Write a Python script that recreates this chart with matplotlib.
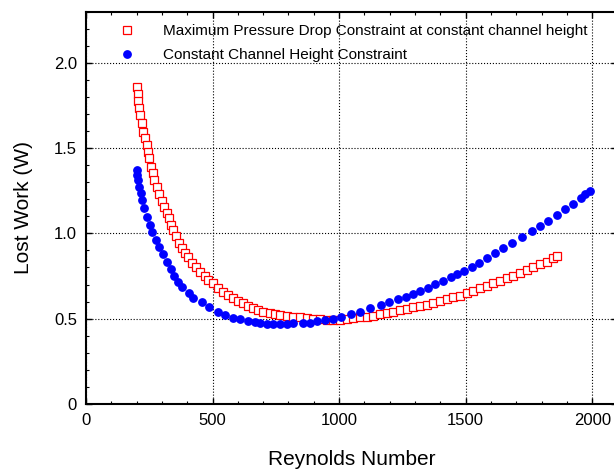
import matplotlib
matplotlib.use('Agg')
import matplotlib.pyplot as plt
from matplotlib.ticker import MultipleLocator, FuncFormatter

plt.rcParams['font.family'] = ['Liberation Sans', 'DejaVu Sans']

# 최대 압력강하 제약 (빨간 네모)
re_dp = [200, 204, 207, 211, 213, 220, 227, 233, 240, 246, 250, 257, 263, 270, 279,
         288, 299, 310, 319, 329, 335, 345, 356, 369, 378, 391, 404, 418, 435, 450,
         470, 483, 503, 523, 543, 562, 582, 602, 622, 641, 661, 681, 701, 727, 747,
         767, 793, 819, 846, 872, 898, 925, 951, 977, 1004, 1030, 1056, 1083, 1109,
         1135, 1162, 1188, 1214, 1241, 1267, 1293, 1320, 1346, 1372, 1399, 1425,
         1451, 1478, 1504, 1530, 1557, 1583, 1609, 1636, 1662, 1688, 1715, 1741,
         1767, 1794, 1820, 1846, 1860]
w_dp = [1.860, 1.817, 1.778, 1.733, 1.694, 1.645, 1.596, 1.557, 1.518, 1.479, 1.440,
        1.391, 1.352, 1.313, 1.274, 1.231, 1.192, 1.157, 1.121, 1.088, 1.049, 1.020,
        0.987, 0.942, 0.913, 0.887, 0.860, 0.828, 0.801, 0.776, 0.750, 0.727, 0.707,
        0.682, 0.658, 0.639, 0.623, 0.606, 0.590, 0.576, 0.565, 0.551, 0.541, 0.531,
        0.526, 0.522, 0.516, 0.512, 0.508, 0.502, 0.498, 0.496, 0.492, 0.492, 0.494,
        0.498, 0.502, 0.508, 0.512, 0.518, 0.528, 0.535, 0.541, 0.551, 0.557, 0.567,
        0.574, 0.582, 0.594, 0.604, 0.613, 0.625, 0.635, 0.649, 0.662, 0.678, 0.692,
        0.707, 0.723, 0.737, 0.752, 0.770, 0.785, 0.801, 0.819, 0.834, 0.854, 0.866]

# 채널 높이 일정 제약 (파란 점)
re_ch = [200, 203, 207, 211, 216, 222, 230, 242, 253, 262, 275, 288, 303, 319, 335,
         349, 365, 381, 408, 424, 457, 486, 520, 549, 580, 608, 639, 668, 687, 714,
         740, 767, 793, 819, 859, 885, 914, 944, 977, 1006, 1046, 1083, 1122, 1164,
         1198, 1231, 1264, 1291, 1320, 1350, 1379, 1412, 1441, 1465, 1495, 1524,
         1554, 1583, 1616, 1649, 1684, 1724, 1763, 1794, 1827, 1860, 1893, 1925,
         1956, 1972, 1991]
w_ch = [1.372, 1.340, 1.313, 1.274, 1.235, 1.196, 1.147, 1.098, 1.049, 1.006, 0.961,
        0.922, 0.877, 0.834, 0.791, 0.752, 0.717, 0.688, 0.652, 0.623, 0.596, 0.567,
        0.541, 0.522, 0.506, 0.496, 0.488, 0.478, 0.473, 0.470, 0.469, 0.470, 0.471,
        0.472, 0.473, 0.477, 0.485, 0.491, 0.500, 0.512, 0.526, 0.540, 0.560, 0.580,
        0.596, 0.613, 0.629, 0.645, 0.662, 0.682, 0.703, 0.723, 0.742, 0.762, 0.781,
        0.803, 0.828, 0.854, 0.883, 0.916, 0.946, 0.977, 1.014, 1.043, 1.073, 1.108,
        1.141, 1.171, 1.209, 1.229, 1.250]

label_dp = 'Maximum Pressure Drop Constraint at constant channel height'
label_ch = 'Constant Channel Height Constraint'

fig = plt.figure(figsize=(6.14, 4.71), dpi=100)
ax = fig.add_axes([0.1401, 0.1423, 0.8656, 0.8331])

ax.plot(re_dp, w_dp, linestyle='none', marker='s', markersize=6,
        markerfacecolor='white', markeredgecolor='red', markeredgewidth=0.9,
        label=label_dp)
ax.plot(re_ch, w_ch, linestyle='none', marker='o', markersize=5.3,
        markerfacecolor='blue', markeredgecolor='blue', label=label_ch)

ax.set_xlim(0, 2100)
ax.set_ylim(0, 2.3)
ax.xaxis.set_major_locator(MultipleLocator(500))
ax.xaxis.set_minor_locator(MultipleLocator(100))
ax.yaxis.set_major_locator(MultipleLocator(0.5))
ax.yaxis.set_minor_locator(MultipleLocator(0.1))
ax.yaxis.set_major_formatter(FuncFormatter(lambda v, p: '0' if v == 0 else '%.1f' % v))

ax.tick_params(which='both', direction='in', top=True, right=True, labelsize=12)
ax.tick_params(which='major', length=4, width=1, pad=6.5)
ax.tick_params(which='minor', length=2.5, width=0.8)
ax.grid(True, which='major', linestyle=':', color='black', linewidth=0.8)
for s in ax.spines.values():
    s.set_linewidth(1.5)

ax.set_xlabel('Reynolds Number', fontsize=15, labelpad=16)
ax.set_ylabel('Lost Work (W)', fontsize=15, labelpad=15)

ax.legend(loc='upper left', bbox_to_anchor=(0.063, 0.968), frameon=False,
          fontsize=11, numpoints=1, handlelength=1.0, handletextpad=1.85,
          borderpad=0, borderaxespad=0, labelspacing=0.65)

plt.savefig('out.png', dpi=100)
